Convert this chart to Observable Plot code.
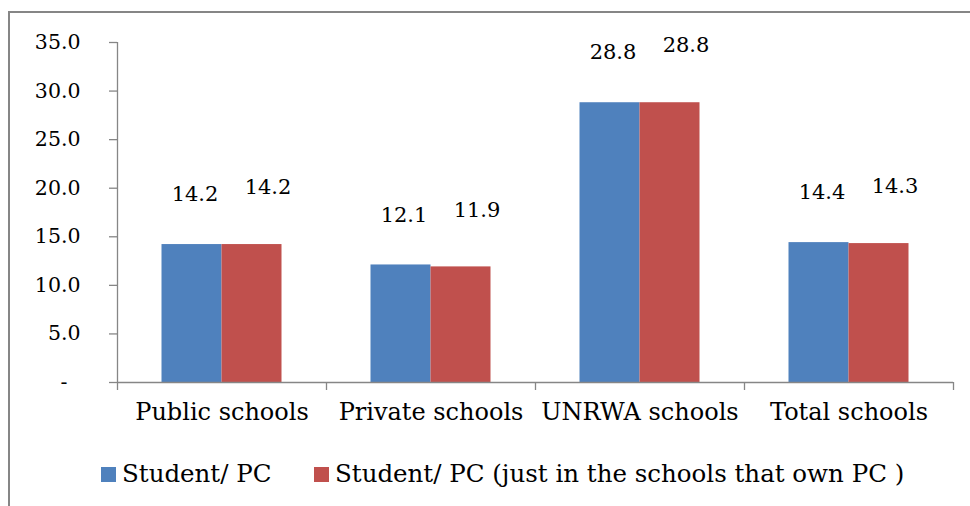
<!DOCTYPE html>
<html>
<head>
<meta charset="utf-8">
<script src="https://cdn.jsdelivr.net/npm/d3@7"></script>
<script src="https://cdn.jsdelivr.net/npm/@observablehq/plot@0.6"></script>
<style>
  html, body { margin: 0; padding: 0; background: #fff; overflow: hidden; }
  #wrap { position: relative; width: 970px; height: 506px; font-family: "DejaVu Serif", serif; }
  #border { position: absolute; left: 8px; top: 11px; width: 1000px; height: 600px;
            border-top: 2px solid #868686; border-left: 2px solid #868686; }
  #chart { position: absolute; left: 0; top: 0; }
  #legend { position: absolute; left: 0; top: 450px; width: 970px; height: 56px; }
  .item { position: absolute; top: 9px; height: 30px; display: flex; align-items: center;
          font-size: 24.5px; line-height: 30px; color: #000; white-space: nowrap; }
  .sw { width: 15px; height: 15px; margin-right: 6px; flex: none; }
</style>
</head>
<body>
<div id="wrap">
  <div id="border"></div>
  <div id="chart"></div>
  <div id="legend"></div>
</div>
<script>
// ---- data ----
const categories = ["Public schools", "Private schools", "UNRWA schools", "Total schools"];
const seriesNames = ["Student/ PC", "Student/ PC (just in the schools that own PC )"];
const studentPerPC = [14.2, 12.1, 28.8, 14.4];
const studentPerPCOwn = [14.2, 11.9, 28.8, 14.3];
const yTicks = [0, 5, 10, 15, 20, 25, 30, 35];
const colors = ["#4F81BD", "#C0504D"];

// ---- build table ----
const seriesValues = [studentPerPC, studentPerPCOwn];
const rows = [];
categories.forEach((c, i) => {
  seriesValues.forEach((vals, s) => {
    rows.push({category: c, i, s, series: seriesNames[s], value: vals[i]});
  });
});

const gray = "#868686";
const font = "DejaVu Serif, serif";
const bw = 60 / 209; // bar width as fraction of a category slot
const left = d => d.i + 0.5 + (d.s - 1) * bw;
const right = d => d.i + 0.5 + d.s * bw;
const center = d => d.i + 0.5 + (d.s - 0.5) * bw;

const chart = Plot.plot({
  width: 970,
  height: 450,
  marginLeft: 117,
  marginRight: 17,
  marginTop: 42,
  marginBottom: 68,
  x: {domain: [0, categories.length], axis: null},
  y: {domain: [0, 35], axis: null},
  color: {domain: seriesNames, range: colors},
  style: {fontFamily: font, background: "transparent", color: "#000"},
  marks: [
    Plot.rect(rows, {x1: left, x2: right, y1: 0, y2: "value", fill: "series"}),
    Plot.text(rows.filter(d => d.s === 0), {
      x: center, y: "value", text: d => d.value.toFixed(1),
      dx: 3, dy: -50, fontSize: 21, fill: "#000"
    }),
    Plot.text(rows.filter(d => d.s === 1), {
      x: center, y: "value", text: d => d.value.toFixed(1),
      dx: 16, dy: -57, fontSize: 21, fill: "#000"
    }),
    Plot.text(categories, {
      x: (d, i) => i + 0.5, text: d => d, frameAnchor: "bottom",
      dy: 37, fontSize: 24, fill: "#000"
    }),
    Plot.axisY({
      ticks: yTicks, tickSize: 8, tickPadding: 29, label: null,
      tickFormat: d => d === 0 ? "-\u00a0\u00a0" : d.toFixed(1),
      stroke: gray, fill: "#000", fontSize: 20.5, strokeWidth: 1.3
    }),
    Plot.axisX({
      ticks: d3.range(0, categories.length + 1), tickSize: 8, label: null,
      tickFormat: () => "", stroke: gray, strokeWidth: 1.3
    }),
    Plot.ruleX([0], {stroke: gray, strokeWidth: 1.3}),
    Plot.ruleY([0], {stroke: gray, strokeWidth: 1.3})
  ]
});
document.getElementById("chart").appendChild(chart);

// ---- legend ----
const legend = document.getElementById("legend");
const legendLeft = [101, 314];
seriesNames.forEach((name, s) => {
  const item = document.createElement("div");
  item.className = "item";
  item.style.left = legendLeft[s] + "px";
  const sw = document.createElement("span");
  sw.className = "sw";
  sw.style.background = colors[s];
  const label = document.createElement("span");
  label.textContent = name;
  item.appendChild(sw);
  item.appendChild(label);
  legend.appendChild(item);
});
</script>
</body>
</html>
